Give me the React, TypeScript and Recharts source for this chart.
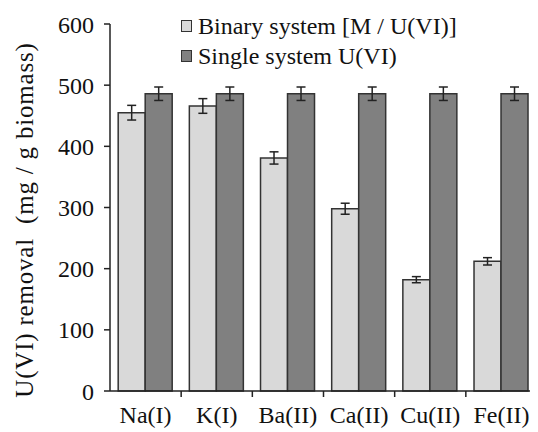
import React from 'react'
import { BarChart, Bar, XAxis, YAxis, ErrorBar } from 'recharts'

const categories = ['Na(I)', 'K(I)', 'Ba(II)', 'Ca(II)', 'Cu(II)', 'Fe(II)']
const binaryValues = [455, 466, 381, 298, 182, 212]
const binaryErrors = [12, 12, 10, 9, 5, 6]
const singleValues = [486, 486, 486, 486, 486, 486]
const singleErrors = [11, 11, 11, 11, 11, 11]
const yTicks = [0, 100, 200, 300, 400, 500, 600]
const seriesNames = ['Binary system [M / U(VI)]', 'Single system U(VI)']
const seriesColors = ['#d9d9d9', '#808080']

const data = categories.map((name, i) => ({
    name,
    binary: binaryValues[i],
    binaryErr: binaryErrors[i],
    single: singleValues[i],
    singleErr: singleErrors[i],
}))

const WIDTH = 538
const HEIGHT = 432
const Y_AXIS_W = 110
const RIGHT_MARGIN = 1
const BAND = (WIDTH - Y_AXIS_W - RIGHT_MARGIN) / categories.length
const FONT = 'Times New Roman, Liberation Serif, serif'

const XTick = (props: any) => {
    const { x, y, payload } = props
    const axisY = y - 6
    return (
        <g>
            <line x1={x + BAND / 2} x2={x + BAND / 2} y1={axisY} y2={axisY + 6} stroke="#222" strokeWidth={1.5} />
            <text x={x} y={axisY + 32} textAnchor="middle" fontSize={24} style={{ fontFamily: FONT }} fill="#111">
                {payload.value}
            </text>
        </g>
    )
}

const YLabel = () => (
    <text
        x={24}
        y={220}
        transform="rotate(-90, 24, 220)"
        textAnchor="middle"
        dominantBaseline="central"
        fontSize={25}
        style={{ fontFamily: FONT }}
        letterSpacing={0.8}
        fill="#111"
    >
        {'U(VI) removal\u00a0\u00a0(mg / g biomass)'}
    </text>
)

export default function App() {
    return (
        <div style={{ margin: '-8px 0 0 -8px', width: WIDTH, height: HEIGHT, fontFamily: FONT }}>
            <BarChart
                width={WIDTH}
                height={HEIGHT}
                data={data}
                margin={{ top: 24, right: RIGHT_MARGIN, left: 0, bottom: 0 }}
                barCategoryGap="11.5%"
                barGap={0}
                style={{ fontFamily: FONT }}
            >
                <XAxis
                    dataKey="name"
                    height={41}
                    tickSize={6}
                    tickMargin={0}
                    tickLine={false}
                    axisLine={{ stroke: '#222', strokeWidth: 1.5 }}
                    tick={<XTick />}
                    interval={0}
                />
                <YAxis
                    width={Y_AXIS_W}
                    domain={[0, 600]}
                    ticks={yTicks}
                    tickSize={6}
                    tickMargin={10}
                    axisLine={{ stroke: '#222', strokeWidth: 1.5 }}
                    tickLine={{ stroke: '#222', strokeWidth: 1.5 }}
                    tick={{ fontSize: 24, fontFamily: FONT, fill: '#111' }}
                    label={<YLabel />}
                />
                <Bar dataKey="binary" name={seriesNames[0]} fill={seriesColors[0]} stroke="#333" strokeWidth={1.5} isAnimationActive={false}>
                    <ErrorBar dataKey="binaryErr" width={4.5} stroke="#222" strokeWidth={1.5} />
                </Bar>
                <Bar dataKey="single" name={seriesNames[1]} fill={seriesColors[1]} stroke="#333" strokeWidth={1.5} isAnimationActive={false}>
                    <ErrorBar dataKey="singleErr" width={4.5} stroke="#222" strokeWidth={1.5} />
                </Bar>
            </BarChart>
            {/* legend sits over the top of the plot */}
            <div style={{ position: 'relative', top: -HEIGHT + 11, left: 181, width: 340, fontFamily: FONT, fontSize: 24, color: '#111' }}>
                {seriesNames.map((label, i) => (
                    <div key={label} style={{ display: 'flex', alignItems: 'center', height: 30, whiteSpace: 'nowrap' }}>
                        <span style={{ display: 'inline-block', width: 9, height: 10, background: seriesColors[i], border: '1.5px solid #333', marginRight: 6 }} />
                        {label}
                    </div>
                ))}
            </div>
        </div>
    )
}
